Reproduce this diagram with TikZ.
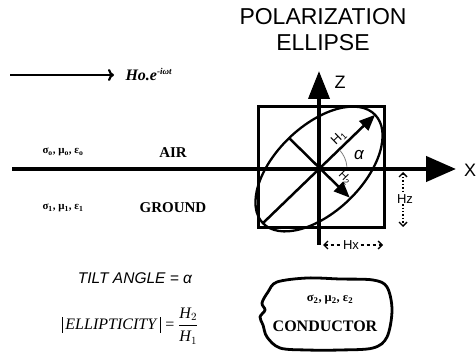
\documentclass[tikz,border=0pt]{standalone}
\usepackage{amsmath}
\usepackage{fontspec}
\setmainfont{Liberation Serif}
\setsansfont{Liberation Sans}
\usetikzlibrary{arrows.meta,calc}
\begin{document}
\begin{tikzpicture}[x=1pt,y=1pt,
  axisline/.style={line width=4.4pt,-{Triangle[length=30pt,width=25pt]}},
  zaxis/.style={line width=3.8pt,-{Triangle[length=28pt,width=21pt]}},
  thinframe/.style={line width=3pt},
  vecarrow/.style={line width=2.5pt,-{Triangle[length=16pt,width=13pt]}},
  layerlbl/.style={font=\fontsize{15}{17}\selectfont\bfseries},
  paramlbl/.style={font=\fontsize{11}{13}\selectfont\bfseries},
  axislbl/.style={font=\sffamily\fontsize{18}{20}\selectfont},
  smalllbl/.style={font=\sffamily\fontsize{13}{15}\selectfont},
  comparrow/.style={line width=1.4pt,{Straight Barb[length=4pt,width=8pt]}-{Straight Barb[length=4pt,width=8pt]}}
]
\useasboundingbox (0,0) rectangle (476,353);

% title
\node[font=\sffamily\fontsize{23}{26}\selectfont,align=center] (title) at (323,323) {POLARIZATION\\ELLIPSE};

% incident field arrow
\coordinate (hs) at (10,278);
\coordinate (he) at (114,278);
\draw[line width=2.2pt,-{To[length=6pt,width=12pt]}] (hs) -- (he);
\node[anchor=west,font=\fontsize{16}{18}\selectfont\bfseries\itshape] (ho) at (122,279) {Ho.e{\fontsize{9}{10}\selectfont\raisebox{6pt}{-iωt}}};

% layers
\node[paramlbl] (airp) at (63,201) {σ\textsubscript{o}, μ\textsubscript{o}, ε\textsubscript{o}};
\node[layerlbl] (air) at (173,200) {AIR};
\node[paramlbl] (grp) at (63,145) {σ\textsubscript{1}, μ\textsubscript{1}, ε\textsubscript{1}};
\node[layerlbl] (ground) at (173,145) {GROUND};

% axes
\coordinate (O) at (319,184);
\coordinate (xs) at (12,184);
\coordinate (xe) at (456,184);
\coordinate (zs) at (319,108);
\coordinate (ze) at (319,282);
\draw[thinframe] (258,125) rectangle (384,246);
\draw[line width=2.3pt,rotate around={44:(O)}] (O) ellipse [x radius=78, y radius=43];
\draw[axisline] (xs) -- (xe);
\draw[line width=3.8pt] (zs) -- (O);
\draw[zaxis] (O) -- (ze);
\node[axislbl] (xl) at (470,183) {X};
\node[axislbl] (zl) at (340,271) {Z};

% H1 and H2
\coordinate (h1a) at ($(O)+(224:78)$);
\coordinate (h1b) at ($(O)+(44:78)$);
\coordinate (h2a) at ($(O)+(134:43)$);
\coordinate (h2b) at ($(O)+(-43:42)$);
\draw[vecarrow] (h1a) -- (h1b);
\draw[vecarrow] (h2a) -- (h2b);
\node[smalllbl,rotate=44] (h1l) at (339,215) {H\textsubscript{1}};
\node[font=\sffamily\fontsize{11.5}{13}\selectfont,rotate=-45,inner sep=0pt] (h2l) at (345,175) {H\textsubscript{2}};
\draw[gray,line width=0.8pt] ($(O)+(5:28)$) arc[start angle=5,end angle=42,radius=28];
\node[font=\sffamily\itshape\fontsize{17}{19}\selectfont,inner sep=0pt] (al) at (359,198) {α};

% component arrows
\coordinate (hzt) at (403,181);
\coordinate (hzb) at (403,126);
\draw[comparrow,dotted] (hzt) -- (hzb);
\node[smalllbl,fill=white,inner sep=1pt] (hzl) at (405,154) {Hz};
\coordinate (hxl) at (323,108);
\coordinate (hxr) at (383,108);
\draw[comparrow,dashed] (hxl) -- (hxr);
\node[smalllbl,fill=white,inner sep=1pt] (hxlbl) at (351,108) {Hx};

% tilt and ellipticity
\node[font=\sffamily\itshape\fontsize{15.5}{17}\selectfont] (tilt) at (135,75) {TILT ANGLE = α};
\node[font=\fontsize{16}{18}\selectfont] (ell) at (130,27)
  {\rule[-3pt]{1pt}{16pt}\,\textit{ELLIPTICITY}\,\rule[-3pt]{1pt}{16pt} = $\dfrac{\textit{H}_{2}}{\textit{H}_{1}}$};

% conductor
\draw[line width=2.8pt] plot[smooth cycle,tension=0.55] coordinates {
 (277,71) (307,75) (340,74) (373,73) (387,66) (392,43) (387,16) (373,5)
 (340,3) (307,3) (280,5) (267,16) (263,28) (260,36) (265,43) (262,50) (268,61)};
\node[font=\fontsize{12.5}{14}\selectfont\bfseries] (condp) at (330,53) {σ\textsubscript{2}, μ\textsubscript{2}, ε\textsubscript{2}};
\node[font=\fontsize{16}{18}\selectfont\bfseries] (cond) at (325,27) {CONDUCTOR};
\end{tikzpicture}
\end{document}
